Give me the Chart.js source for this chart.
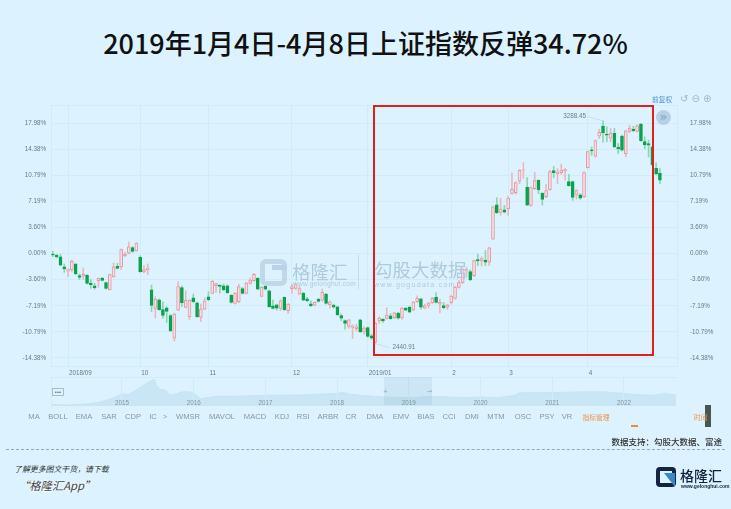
<!DOCTYPE html>
<html lang="zh">
<head>
<meta charset="utf-8">
<title>上证指数</title>
<script src="https://cdn.jsdelivr.net/npm/chart.js@4"></script>
<style>
    html, body { margin: 0; padding: 0; background: #dcf3ff; }
    #page { position: relative; width: 731px; height: 509px; overflow: hidden; background: #dcf3ff;
            font-family: "Noto Sans CJK SC", "Noto Sans", sans-serif; filter: blur(0.35px); }
    #page div, #page span { position: absolute; white-space: nowrap; }
    #kline-wrap { left: 0; top: 96px; width: 731px; height: 285px; }
    #nav-wrap { left: 51px; top: 377px; width: 626px; height: 29px; }
    #title { left: 0; width: 731px; top: 21px; text-align: center; font-size: 27px; line-height: 44px; font-weight: 500; color: #111; }
    #red-box { left: 373px; top: 105px; width: 277px; height: 247px; border: 2px solid #e0201a; }
    #menu span { top: 411px; font: 7.6px/12px "Liberation Sans", sans-serif; color: #8496a8; transform: translateX(-50%); }
    #menu span.orange { color: #ea9650; font: 6.8px/12px "Noto Sans CJK SC", sans-serif; }
    #dash { left: 6px; top: 449px; width: 719px; border-top: 1px dashed #9aa7ae; }
</style>
</head>
<body>
<div id="page">
    <div id="title">2019年1月4日-4月8日上证指数反弹34.72%</div>

    <div id="kline-wrap"><canvas id="klineChart" width="731" height="285"></canvas></div>
    <div id="nav-wrap"><canvas id="navChart" width="626" height="29"></canvas></div>

    <!-- watermark -->
    <div style="left:260px;top:259px;width:17px;height:17px;border:5px solid #b9d3e6;border-radius:6px;opacity:.85"></div>
    <div style="left:272px;top:265px;width:15px;height:5px;background:#b9d3e6"></div>
    <div style="left:292px;top:258px;font-size:18.5px;line-height:26px;color:#aecade">格隆汇</div>
    <div style="left:293px;top:279px;font:6.5px/9px 'Liberation Sans',sans-serif;letter-spacing:.3px;color:#aecade">www.gelonghui.com</div>
    <div style="left:358px;top:255px;width:1px;height:34px;background:#c5dcea"></div>
    <div style="left:374px;top:256px;font-size:18.5px;line-height:26px;color:#aecade">勾股大数据</div>
    <div style="left:374px;top:280px;font:7px/9px 'Liberation Sans',sans-serif;letter-spacing:1.3px;color:#aecade">www.gogudata.com</div>

    <div id="red-box"></div>

    <!-- chart toolbar -->
    <div style="left:652px;top:93px;font-size:6.8px;line-height:12px;color:#4d8fd0">前复权</div>
    <div style="left:680px;top:92px;font:10px/14px 'DejaVu Sans',sans-serif;color:#a9b6c0">↺ ⊖ ⊕</div>
    <div style="left:656px;top:110px;width:15px;height:15px;border-radius:50%;background:#b6d0e4;color:#7fa3c2;font:13px/13px 'DejaVu Sans',sans-serif;text-align:center">»</div>

    <!-- navigator parts -->
    <div style="left:384px;top:377px;width:48px;height:28px;background:rgba(110,150,180,.13)"></div>
    <div style="left:52px;top:388px;width:10px;height:6px;border:1px solid #a8bccb;font:6px/6px 'Liberation Sans',sans-serif;color:#60788c;text-align:center">•••</div>
    <div style="left:383px;top:386px;font:6px/9px 'DejaVu Sans',sans-serif;color:#8aa4b6">+</div>
    <div style="left:427px;top:386px;font:6px/9px 'DejaVu Sans',sans-serif;color:#8aa4b6">→</div>

    <div id="menu"></div>
    <div style="left:631px;top:425px;width:7px;height:1.5px;background:#ea8a3c"></div>
    <div style="left:705px;top:405px;width:6px;height:22px;background:#47574f"></div>
    <div style="left:694px;top:411px;font-size:6.8px;line-height:12px;color:#ea9650">时间</div>

    <div style="right:9px;top:434px;font-size:8.5px;line-height:15px;font-weight:500;color:#333">数据支持：勾股大数据、富途</div>
    <div id="dash"></div>

    <div style="left:14px;top:462px;font-size:7.9px;line-height:14px;font-style:italic;color:#333">了解更多图文干货，请下载</div>
    <div style="left:18px;top:475px;font-size:11.3px;line-height:20px;font-style:italic;color:#444;text-shadow:0 0 2px #fff,0 0 3px #fff">“格隆汇App”</div>

    <!-- logo -->
    <div style="left:656px;top:467px;width:12px;height:12px;border:4px solid #14233f;border-radius:4px"></div>
    <div style="left:664px;top:473px;width:11px;height:14px;background:#3d86c8;clip-path:polygon(0 0,100% 0,100% 100%)"></div>
    <div style="left:680px;top:464px;font-size:14px;line-height:22px;font-weight:500;color:#14233f">格隆汇</div>
    <div style="left:681px;top:483px;font:5px/7px 'Liberation Sans',sans-serif;font-weight:700;color:#14233f">www.gelonghui.com</div>
</div>

<script>
// values in % against the 2018/08 base
const highs = [
    0.32,-0.09,-0.09,-1.43,-2.12,-0.88,-1.43,-2.81,-1.98,-2.90,-3.60,-4.10,-3.37,-3.27,-3.92,-2.81,-1.29,-1.34,0.65,0.18,1.61,0.97,1.48,-0.32,-1.66,-1.43,-4.33,-5.95,-6.22,-6.64,-7.33,-8.34,-8.21,-3.87,-4.43,-5.12,-6.36,-5.58,-6.68,-6.96,-6.09,-5.26,
    -3.73,-4.06,-4.29,-4.20,-4.29,-5.67,-5.35,-4.20,-4.66,-3.96,-3.37,-2.72,-3.32,-4.56,-4.43,-5.02,-6.41,-6.96,-6.36,-5.95,-6.87,-4.20,-4.10,-4.43,-5.35,-6.04,-6.50,-6.64,-6.18,-4.89,-5.49,-6.50,-6.96,-7.24,-8.34,-9.13,-9.08,-9.82,-9.73,-9.04,-10.10,-10.10,-11.11,-9.50,
    -8.71,-8.94,-7.47,-8.25,-8.07,-8.11,-7.42,-7.42,-7.24,-6.59,-5.81,-6.13,-6.96,-6.73,-6.04,-5.39,-6.27,-6.73,-6.96,-5.76,-4.56,-3.73,-1.98,-1.89,-2.26,-0.88,-0.05,-0.41,0.41,0.88,6.55,7.70,7.61,6.64,
    7.88,11.11,9.87,11.57,12.54,10.46,9.17,11.20,10.19,8.39,9.54,11.48,12.03,11.71,12.31,11.71,10.93,10.00,8.81,8.25,11.25,14.15,14.71,15.67,17.15,18.30,17.47,17.24,17.24,15.17,16.32,17.01,17.70,17.56,17.75,17.93,16.09,15.63,14.80,12.49,11.71
];
const bodyTops = [
    0.00,-0.23,-0.46,-1.84,-2.21,-1.06,-1.43,-3.04,-2.86,-3.00,-4.06,-4.43,-3.41,-3.37,-4.01,-2.90,-1.84,-1.75,0.55,0.00,0.92,0.83,1.43,-0.51,-2.21,-2.07,-4.98,-6.27,-6.36,-7.70,-7.47,-8.53,-8.34,-4.56,-4.70,-6.45,-6.41,-6.09,-6.78,-7.65,-6.50,-5.95,
    -3.78,-4.15,-4.33,-4.43,-4.43,-5.76,-5.44,-4.56,-4.84,-4.06,-3.64,-2.86,-3.41,-4.66,-4.52,-5.12,-7.19,-7.05,-6.50,-6.04,-6.96,-4.56,-4.20,-4.84,-5.44,-6.22,-6.92,-6.73,-6.27,-5.35,-5.58,-6.64,-7.10,-7.33,-8.53,-9.22,-9.13,-9.96,-10.10,-9.13,-10.28,-10.19,-11.34,-9.59,
    -8.90,-9.04,-8.48,-8.57,-8.16,-8.21,-7.51,-7.51,-7.42,-6.68,-6.18,-6.22,-7.15,-6.82,-6.18,-5.99,-6.73,-7.15,-7.05,-5.85,-4.66,-4.01,-2.17,-2.21,-2.49,-0.97,-0.83,-0.69,-0.88,0.78,6.45,6.73,6.18,6.04,
    7.65,8.85,9.77,11.48,11.57,9.17,9.08,10.05,10.10,8.30,8.67,11.29,11.43,11.25,11.52,11.57,9.91,9.91,8.67,8.11,11.16,14.06,14.29,15.58,16.69,17.56,16.46,16.55,16.55,14.66,16.18,16.92,17.29,17.15,17.61,17.84,15.44,15.17,14.71,11.76,11.06
];
const bodyBottoms = [
    -0.18,-0.46,-1.61,-2.12,-2.44,-2.26,-2.81,-3.27,-3.13,-4.10,-4.29,-4.70,-3.73,-3.69,-4.79,-4.98,-3.23,-2.03,-1.84,-0.32,0.05,0.28,0.37,-2.49,-2.54,-2.26,-7.15,-7.56,-7.74,-8.53,-7.98,-10.65,-11.66,-7.79,-6.78,-7.42,-8.71,-6.64,-8.71,-8.81,-7.65,-6.36,
    -5.49,-4.43,-4.52,-5.02,-5.39,-6.73,-6.87,-6.64,-5.49,-5.49,-4.10,-3.73,-4.89,-5.90,-4.89,-7.33,-7.56,-7.51,-7.56,-7.74,-7.88,-4.84,-4.79,-5.58,-6.41,-6.50,-7.19,-7.10,-6.59,-6.41,-6.87,-7.05,-7.38,-8.44,-8.90,-9.63,-10.05,-10.19,-10.33,-10.79,-10.79,-11.43,-11.66,-12.22,
    -9.27,-9.27,-8.94,-8.99,-8.85,-8.90,-8.85,-7.79,-8.07,-7.79,-6.64,-7.38,-7.51,-7.15,-6.78,-6.73,-6.96,-7.47,-7.38,-6.78,-6.18,-4.66,-4.01,-2.40,-3.64,-3.04,-1.01,-1.01,-1.20,-1.20,1.98,5.62,5.67,5.72,
    6.18,8.30,8.39,9.96,11.48,6.68,6.64,8.94,8.76,7.47,7.84,8.81,11.16,10.97,11.16,11.39,9.36,7.74,8.16,7.65,7.79,11.85,14.15,13.42,16.18,16.64,16.32,15.90,14.71,14.43,14.24,13.78,16.83,16.92,16.83,15.54,14.98,14.94,12.26,10.97,10.10
];
const lows = [
    -0.41,-0.60,-1.71,-2.58,-3.18,-2.54,-2.90,-3.60,-3.55,-4.20,-4.79,-4.93,-4.66,-3.78,-4.89,-5.02,-3.27,-2.12,-2.21,-0.41,-0.05,0.18,0.32,-2.58,-2.63,-2.90,-8.02,-8.90,-7.79,-8.90,-9.50,-10.74,-12.03,-7.88,-7.28,-7.47,-9.08,-6.73,-8.81,-9.36,-7.74,-6.50,
    -5.49,-5.35,-5.44,-5.12,-5.49,-6.82,-6.96,-6.78,-5.58,-5.58,-4.20,-3.83,-4.98,-5.95,-5.02,-7.42,-7.65,-7.79,-7.88,-7.84,-8.25,-5.49,-4.93,-5.67,-6.50,-6.64,-7.33,-7.24,-6.68,-6.59,-6.96,-7.51,-7.51,-8.53,-9.27,-10.42,-10.28,-11.71,-10.65,-10.88,-11.11,-11.57,-11.85,-12.40,
    -9.63,-9.50,-9.04,-9.04,-8.99,-9.04,-9.08,-7.88,-8.16,-7.88,-6.73,-7.65,-7.61,-7.51,-6.92,-6.82,-8.16,-7.61,-7.70,-6.96,-6.27,-4.75,-4.10,-3.27,-3.73,-3.18,-1.66,-1.71,-1.66,-1.66,1.94,5.49,5.26,5.58,
    5.26,8.16,8.16,9.63,10.33,6.59,6.50,8.81,8.25,6.68,7.70,8.71,10.46,9.63,10.93,10.10,9.27,7.33,7.51,7.47,7.70,11.76,13.55,13.28,15.86,15.35,15.40,15.40,14.57,13.78,14.15,13.32,16.64,16.78,16.73,15.44,14.43,13.32,12.17,10.88,9.63
];
// 1 = closed up (red hollow candle), 0 = closed down (green)
const rising = [
    0,0,0,0,1,1,0,0,1,0,0,0,1,0,0,1,1,0,1,1,1,0,1,0,1,1,0,1,0,0,0,0,1,1,0,1,1,0,0,1,1,0,
    1,1,0,0,0,0,1,1,0,1,1,1,0,1,0,0,0,0,1,0,1,1,1,1,0,0,0,1,0,1,0,1,0,0,0,0,1,1,1,0,1,0,0,1,
    1,0,1,0,1,0,1,0,0,1,1,0,1,1,1,0,1,0,1,1,1,1,1,1,0,1,0,1,0,1,1,0,1,0,
    1,1,1,1,1,0,1,1,0,0,1,1,0,1,1,1,0,0,1,0,1,1,0,1,1,0,0,1,0,0,0,1,1,0,1,0,0,0,0,0,0
];
const emptySlots = 4; // room right of the last candle
const monthSlots = [4, 23, 41, 63, 83, 105, 120, 141];
const monthLabels = ['2018/09', '10', '11', '12', '2019/01', '2', '3', '4'];
const yTicks = [17.98, 14.38, 10.79, 7.19, 3.60, 0, -3.60, -7.19, -10.79, -14.38];

const navYears = [2014.02,2014.23,2014.51,2014.69,2014.88,2015.00,2015.09,2015.18,2015.27,2015.34,2015.41,2015.45,2015.48,2015.53,2015.58,2015.62,2015.67,2015.76,2015.85,2015.95,2016.02,2016.09,2016.18,2016.32,2016.55,2017.02,2017.48,2017.95,2018.09,2018.18,2018.39,2018.65,2018.99,2019.32,2019.78,2020.00,2020.25,2020.48,2020.53,2020.99,2021.41,2021.74,2022.01,2022.20,2022.39,2022.57,2022.73];
const navIndex = [2000,1960,2090,2300,2860,3290,3290,3720,4240,4670,5010,5180,4450,3810,3890,3720,3160,3380,3590,3590,3380,2730,2860,3030,3030,3160,3200,3380,3500,3290,3120,2950,2860,3030,2860,2950,2860,3160,3460,3500,3590,3590,3380,3250,3160,3380,3160];
const navTickYears = [2015, 2016, 2017, 2018, 2019, 2020, 2021, 2022];

const menuItems = [['MA',34],['BOLL',58],['EMA',84],['SAR',109],['CDP',133],['IC',153],['>',165],['WMSR',188],['MAVOL',222],['MACD',255],['KDJ',282],['RSI',303],['ARBR',328],['CR',351],['DMA',375],['EMV',401],['BIAS',426],['CCI',449],['DMI',472],['MTM',496],['OSC',523],['PSY',547],['VR',567]];

const UP_LINE = '#e39aa0', UP_FILL = '#f2dfe7', UP_WICK = '#ecb8bc';
const DOWN_FILL = '#0ba24e', DOWN_WICK = '#8ed6ae';
const GRID = '#d0ebf9';
const TICK_COLOR = '#66788a';
const TICK_FONT = { family: '"Liberation Sans", sans-serif', size: 6.3 };

document.addEventListener('DOMContentLoaded', () => {
    buildMenu();
    klineChart();
    navChart();
});

function buildMenu() {
    const menu = document.getElementById('menu');
    menuItems.forEach(item => {
        const el = document.createElement('span');
        el.textContent = item[0];
        el.style.left = item[1] + 'px';
        menu.appendChild(el);
    });
    const manage = document.createElement('span');
    manage.textContent = '指标管理';
    manage.className = 'orange';
    manage.style.left = '596px';
    menu.appendChild(manage);
}

// marks the highest and lowest price with a grey label and a thin leader line
const extremeLabels = {
    id: 'extremeLabels',
    afterDatasetsDraw(chart) {
        const x = chart.scales.x, y = chart.scales.y, ctx = chart.ctx;
        const topSlot = highs.indexOf(Math.max(...highs));
        const lowSlot = lows.indexOf(Math.min(...lows));
        const marks = [
            { text: '3288.45', px: x.getPixelForValue(topSlot), py: y.getPixelForValue(highs[topSlot]), dx: -15, dy: -4, align: 'right' },
            { text: '2440.91', px: x.getPixelForValue(lowSlot), py: y.getPixelForValue(lows[lowSlot]), dx: 14, dy: 4, align: 'left' }
        ];
        ctx.save();
        ctx.font = '6.3px "Liberation Sans", sans-serif';
        ctx.textBaseline = 'middle';
        marks.forEach(m => {
            ctx.strokeStyle = '#c3d3de';
            ctx.lineWidth = 0.7;
            ctx.beginPath();
            ctx.moveTo(m.px, m.py);
            ctx.lineTo(m.px + m.dx, m.py + m.dy);
            ctx.stroke();
            ctx.fillStyle = '#6f7c86';
            ctx.textAlign = m.align;
            ctx.fillText(m.text, m.px + m.dx + (m.align === 'left' ? 3 : -2), m.py + m.dy);
        });
        ctx.restore();
    }
};

const plotFrame = {
    id: 'plotFrame',
    beforeDatasetsDraw(chart) {
        const a = chart.chartArea, ctx = chart.ctx;
        ctx.save();
        ctx.strokeStyle = GRID;
        ctx.lineWidth = 1;
        ctx.strokeRect(a.left + 0.5, a.top + 0.5, a.width, a.height);
        ctx.restore();
    }
};

function klineChart() {
    const slots = [...Array(highs.length + emptySlots).keys()];

    new Chart(document.getElementById('klineChart'), {
        type: 'bar',
        data: {
            labels: slots,
            datasets: [
                {
                    label: 'body',
                    data: bodyTops.map((top, i) => [bodyBottoms[i], top]),
                    barThickness: 3,
                    backgroundColor: rising.map(r => r ? UP_FILL : DOWN_FILL),
                    borderColor: rising.map(r => r ? UP_LINE : DOWN_FILL),
                    borderWidth: 1,
                    borderSkipped: false,
                    order: 1
                },
                {
                    label: 'wick',
                    data: highs.map((high, i) => [lows[i], high]),
                    barThickness: 1,
                    backgroundColor: rising.map(r => r ? UP_WICK : DOWN_WICK),
                    order: 2
                }
            ]
        },
        options: {
            responsive: false,
            animation: false,
            events: [],
            layout: { padding: { top: 9 } },
            plugins: { legend: { display: false }, tooltip: { enabled: false } },
            datasets: { bar: { grouped: false } },
            scales: {
                x: {
                    grid: { color: GRID, offset: false, drawTicks: false },
                    border: { display: false },
                    afterBuildTicks: axis => { axis.ticks = monthSlots.map(v => ({ value: v })); },
                    afterFit: axis => { axis.height = 15; },
                    ticks: {
                        autoSkip: false,
                        maxRotation: 0,
                        align: 'start',
                        labelOffset: 1,
                        padding: 3,
                        color: TICK_COLOR,
                        font: TICK_FONT,
                        callback: value => monthLabels[monthSlots.indexOf(value)]
                    }
                },
                y: {
                    position: 'left',
                    min: -15.49,
                    max: 20.47,
                    grid: { color: GRID, drawTicks: false },
                    border: { display: false },
                    afterBuildTicks: axis => { axis.ticks = yTicks.map(v => ({ value: v })); },
                    afterFit: axis => { axis.width = 51; },
                    ticks: {
                        padding: 5,
                        color: TICK_COLOR,
                        font: TICK_FONT,
                        callback: value => value.toFixed(2) + '%'
                    }
                },
                yRight: {
                    position: 'right',
                    min: -15.49,
                    max: 20.47,
                    grid: { display: false },
                    border: { display: false },
                    afterBuildTicks: axis => { axis.ticks = yTicks.map(v => ({ value: v })); },
                    afterFit: axis => { axis.width = 54; },
                    ticks: {
                        padding: 5,
                        color: TICK_COLOR,
                        font: TICK_FONT,
                        callback: value => value.toFixed(2) + '%'
                    }
                }
            }
        },
        plugins: [plotFrame, extremeLabels]
    });
}

function navChart() {
    new Chart(document.getElementById('navChart'), {
        type: 'line',
        data: {
            datasets: [{
                data: navYears.map((year, i) => ({ x: year, y: navIndex[i] })),
                borderColor: '#c6e3f3',
                borderWidth: 1,
                backgroundColor: '#c8e6f5',
                fill: true,
                pointRadius: 0,
                tension: 0
            }]
        },
        options: {
            responsive: false,
            animation: false,
            events: [],
            layout: { padding: 0 },
            plugins: { legend: { display: false }, tooltip: { enabled: false } },
            scales: {
                x: {
                    type: 'linear',
                    min: 2014.01,
                    max: 2022.74,
                    grid: { color: GRID, drawTicks: false, z: 1 },
                    border: { display: false },
                    afterBuildTicks: axis => { axis.ticks = navTickYears.map(v => ({ value: v })); },
                    afterFit: axis => { axis.height = 0; },
                    ticks: {
                        z: 2,
                        mirror: true, // mirrored labels are not clipped to the zero height axis
                        padding: -1,
                        maxRotation: 0,
                        autoSkip: false,
                        color: '#7f96a8',
                        font: TICK_FONT,
                        callback: value => String(value)
                    }
                },
                y: {
                    display: false,
                    min: 1830,
                    max: 5440
                }
            }
        },
        plugins: [plotFrame]
    });
}
</script>
</body>
</html>
